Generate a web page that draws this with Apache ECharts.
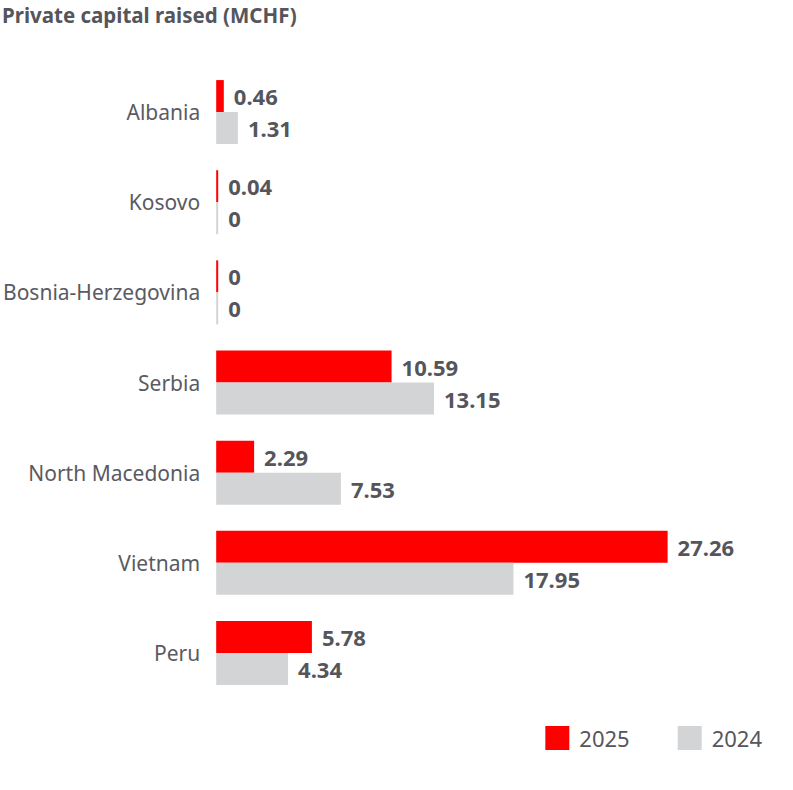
<!DOCTYPE html>
<html>
<head>
<meta charset="utf-8">
<script src="https://cdn.jsdelivr.net/npm/echarts@6/dist/echarts.min.js"></script>
<style>
  html, body { margin: 0; padding: 0; background: #fff; }
  #chart { width: 793px; height: 790px; }
</style>
</head>
<body>
<div id="chart"></div>
<script>
  var countries = ['Albania', 'Kosovo', 'Bosnia-Herzegovina', 'Serbia', 'North Macedonia', 'Vietnam', 'Peru'];
  var values2025 = [0.46, 0.04, 0, 10.59, 2.29, 27.26, 5.78];
  var values2024 = [1.31, 0, 0, 13.15, 7.53, 17.95, 4.34];

  var textColor = '#55555c';
  var red = '#ff0000';
  var grey = '#d3d4d6';
  var font = 'Noto Sans';

  var valueLabel = {
    show: true, position: 'right', distance: 10,
    color: textColor, fontFamily: font, fontWeight: 'bold', fontSize: 22,
    formatter: function(p) { return String(p.value); }
  };

  var chart = echarts.init(document.getElementById('chart'), null, {renderer: 'svg'});
  chart.setOption({
    animation: false,
    title: {
      text: 'Private capital raised (MCHF)', left: 2, top: 4, padding: 0,
      textStyle: {color: textColor, fontFamily: font, fontWeight: 'bold', fontSize: 20.5}
    },
    legend: {
      data: ['2025', '2024'], right: 26, top: 721,
      itemWidth: 24, itemHeight: 24, itemGap: 48, selectedMode: false,
      icon: 'rect',
      textStyle: {color: textColor, fontFamily: font, fontSize: 22, padding: [0, 0, 0, 5]}
    },
    grid: {left: 213, top: 67, width: 500, height: 631, containLabel: false},
    xAxis: {type: 'value', min: 0, max: 30, show: false},
    yAxis: {
      type: 'category', data: countries, inverse: true,
      axisLine: {show: false}, axisTick: {show: false},
      axisLabel: {color: '#5a5a62', fontFamily: font, fontSize: 21, margin: 16}
    },
    series: [
      {name: '2025', type: 'bar', data: values2025, barWidth: 32, barGap: '0%',
       barMinHeight: 2, itemStyle: {color: red}, label: valueLabel},
      {name: '2024', type: 'bar', data: values2024, barWidth: 32, barGap: '0%',
       barMinHeight: 2, itemStyle: {color: grey}, label: valueLabel}
    ]
  });
</script>
</body>
</html>
